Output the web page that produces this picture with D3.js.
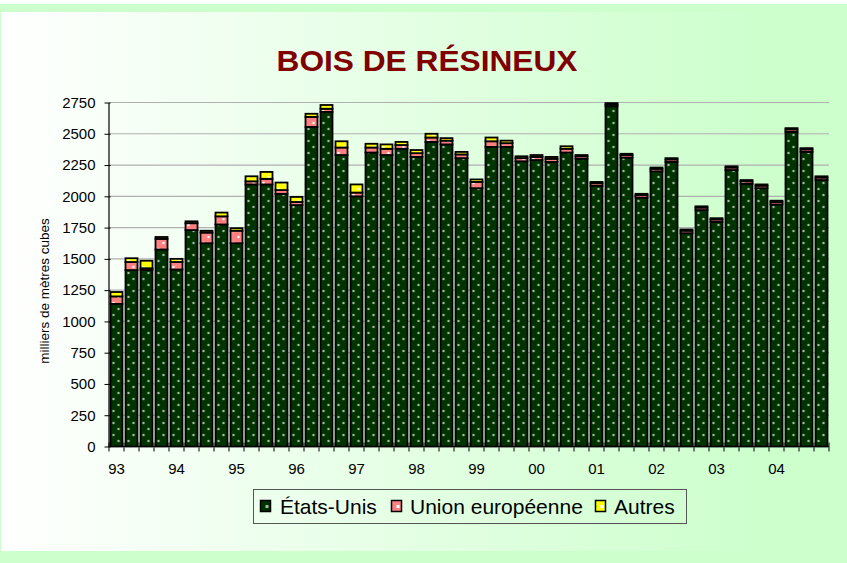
<!DOCTYPE html>
<html>
<head>
<meta charset="utf-8">
<script src="https://cdn.jsdelivr.net/npm/d3@7"></script>
<style>
  html, body { margin: 0; padding: 0; background: #ccffcc; }
  svg { display: block; }
  svg text { font-family: "Liberation Sans", Arial, sans-serif; }
</style>
</head>
<body>
<svg id="chart" width="847" height="563"></svg>
<script>
// Quarterly shipments of softwood lumber, 1993–2004 (thousands of cubic metres)
const quarters = d3.range(48).map(i => i);
const yearLabels = ["93","94","95","96","97","98","99","00","01","02","03","04"];
const etatsUnis = [
  1140, 1410, 1410, 1575, 1415, 1730, 1625, 1775, 1625, 2095, 2095, 2020,
  1930, 2555, 2675, 2330, 2000, 2350, 2330, 2380, 2315, 2435, 2415, 2305,
  2065, 2395, 2395, 2280, 2290, 2275, 2350, 2300, 2085, 2720, 2310, 1990,
  2200, 2275, 1705, 1890, 1795, 2210, 2100, 2065, 1935, 2515, 2355, 2130
];
const unionEuropeenne = [
  60, 65, 15, 85, 60, 55, 85, 65, 100, 25, 45, 30,
  25, 80, 25, 60, 30, 40, 50, 30, 30, 35, 30, 30,
  50, 45, 30, 25, 25, 25, 30, 20, 20, 15, 20, 20,
  20, 20, 20, 20, 20, 20, 20, 20, 20, 20, 20, 20
];
const autres = [
  35, 30, 60, 15, 25, 15, 15, 30, 20, 40, 55, 60,
  40, 25, 30, 50, 65, 30, 35, 25, 25, 30, 20, 20,
  20, 30, 20, 15, 15, 15, 20, 10, 10, 10, 10, 10,
  10, 10, 10, 10, 10, 10, 10, 10, 10, 10, 10, 10
];
const yTicks = d3.range(0, 2751, 250);
const seriesNames = ["États-Unis", "Union européenne", "Autres"];
const seriesColors = ["#003300", "#ff8080", "#ffff00"];
const FONT = "'Liberation Sans', Arial, sans-serif";

const svg = d3.select("#chart");
const defs = svg.append("defs");

// Background panel gradient
const grad = defs.append("linearGradient").attr("id", "panelGrad")
  .attr("gradientUnits", "userSpaceOnUse")
  .attr("x1", 0).attr("y1", 0).attr("x2", 770).attr("y2", 0);
grad.append("stop").attr("offset", "0%").attr("stop-color", "#ffffff");
grad.append("stop").attr("offset", "100%").attr("stop-color", "#ccffcc");

// Dotted fills for the three series
const dotColors = ["#a3baa3", "#ffffff", "#ffffff"];
seriesColors.forEach((c, i) => {
  const p = defs.append("pattern").attr("id", "pat" + i)
    .attr("patternUnits", "userSpaceOnUse")
    .attr("x", 0.5).attr("y", 0).attr("width", 10).attr("height", 12);
  p.append("rect").attr("width", 10).attr("height", 12).attr("fill", c);
  p.append("circle").attr("cx", 3).attr("cy", 3).attr("r", 1.25).attr("fill", dotColors[i]);
  p.append("circle").attr("cx", 8).attr("cy", 9).attr("r", 1.25).attr("fill", dotColors[i]);
});

// Page background
svg.append("rect").attr("width", 847).attr("height", 563).attr("fill", "#ccffcc");
svg.append("rect").attr("width", 847).attr("height", 4).attr("fill", "#ffffff");
svg.append("rect").attr("x", 1).attr("y", 12).attr("width", 837).attr("height", 539)
  .attr("fill", "url(#panelGrad)");

// Title
svg.append("text").attr("x", 427).attr("y", 71)
  .attr("text-anchor", "middle").attr("font-family", FONT)
  .attr("font-size", 30).attr("font-weight", "bold").attr("fill", "#800000")
  .attr("textLength", 301).attr("lengthAdjust", "spacingAndGlyphs")
  .text("BOIS DE RÉSINEUX");

// Scales
const x = d3.scaleBand().domain(quarters).range([109, 829])
  .paddingInner(0.2).paddingOuter(0.1);
const y = d3.scaleLinear().domain([0, 2750]).range([446.5, 102.5]);

// Gridlines
svg.append("g").selectAll("line").data(yTicks.filter(d => d > 0)).join("line")
  .attr("x1", 109).attr("x2", 829)
  .attr("y1", d => y(d)).attr("y2", d => y(d))
  .attr("stroke", "#b0b0b0").attr("stroke-width", 1.2);

// Stacked bars
const rows = quarters.map(i => ({ q: i, us: etatsUnis[i], ue: unionEuropeenne[i], au: autres[i] }));
const stack = d3.stack().keys(["us", "ue", "au"])(rows);
const barG = svg.append("g");
stack.forEach((layer, k) => {
  barG.append("g").selectAll("rect").data(layer).join("rect")
    .attr("x", d => x(d.data.q))
    .attr("width", x.bandwidth())
    .attr("y", d => y(d[1]))
    .attr("height", d => y(d[0]) - y(d[1]))
    .attr("fill", "url(#pat" + k + ")")
    .attr("stroke", "#000").attr("stroke-width", 1.8);
});

// Y axis
const yAxis = d3.axisLeft(y).tickValues(yTicks).tickFormat(d3.format("d"))
  .tickSizeInner(4).tickSizeOuter(0).tickPadding(9);
const yg = svg.append("g").attr("transform", "translate(108.5,0)").call(yAxis);
yg.attr("font-family", FONT);
yg.select(".domain").attr("stroke", "#000").attr("stroke-width", 1.2);
yg.selectAll(".tick line").attr("stroke", "#000").attr("x2", -4).attr("x1", 2);
yg.selectAll(".tick text").attr("font-size", 15).attr("fill", "#000");

// X axis: tick marks at every quarter boundary, labels on the first quarter of each year
const xg = svg.append("g");
xg.append("line").attr("x1", 108.5).attr("x2", 829).attr("y1", y(0)).attr("y2", y(0))
  .attr("stroke", "#000").attr("stroke-width", 1.2);
const boundaries = quarters.map(q => x(q) - x.step() * x.paddingInner() / 2).concat([829]);
xg.selectAll("line.tk").data(boundaries).join("line").attr("class", "tk")
  .attr("x1", d => d).attr("x2", d => d)
  .attr("y1", y(0) - 4).attr("y2", y(0) + 5)
  .attr("stroke", "#000").attr("stroke-width", 1);
xg.selectAll("text").data(yearLabels).join("text")
  .attr("x", (d, i) => x(i * 4) + x.bandwidth() / 2)
  .attr("y", 474)
  .attr("text-anchor", "middle").attr("font-family", FONT)
  .attr("font-size", 15).attr("fill", "#000")
  .text(d => d);

// Y axis title
svg.append("text")
  .attr("transform", "translate(48.5,291) rotate(-90)")
  .attr("text-anchor", "middle").attr("font-family", FONT)
  .attr("font-size", 13.5).attr("fill", "#000")
  .text("milliers de mètres cubes");

// Legend
const lg = svg.append("g");
lg.append("rect").attr("x", 253.5).attr("y", 489.5).attr("width", 433).attr("height", 34)
  .attr("fill", "none").attr("stroke", "#555").attr("stroke-width", 1);
const swatchX = [260, 391, 595];
const labelX = [280, 410, 614];
seriesNames.forEach((name, i) => {
  lg.append("rect").attr("x", swatchX[i] + 0.5).attr("y", 500.5).attr("width", 10).attr("height", 11)
    .attr("fill", seriesColors[i]).attr("stroke", "#000").attr("stroke-width", 1.5);
  lg.append("rect").attr("x", swatchX[i] + 5.5).attr("y", 505).attr("width", 3).attr("height", 3)
    .attr("fill", i === 0 ? "#a3baa3" : "#ffffff");
  lg.append("text").attr("x", labelX[i]).attr("y", 514).attr("font-family", FONT)
    .attr("font-size", 21).attr("fill", "#000").text(name);
});
</script>
</body>
</html>
